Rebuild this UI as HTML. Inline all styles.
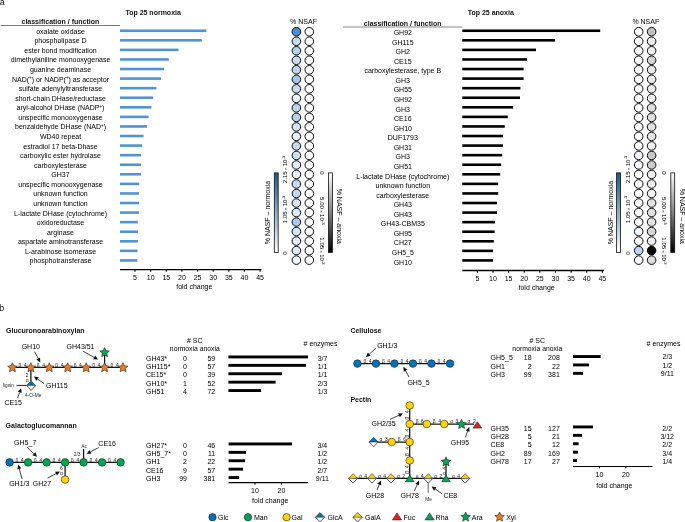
<!DOCTYPE html>
<html><head><meta charset="utf-8"><style>
html,body{margin:0;padding:0;background:#fff;}
svg{display:block;font-family:"Liberation Sans",sans-serif;will-change:transform;}
</style></head><body>
<svg width="685" height="522" viewBox="0 0 685 522">
<rect width="685" height="522" fill="#fff"/>
<text x="-0.30" y="4.70" font-size="8.8" text-anchor="start" font-weight="normal" fill="#111" >a</text>
<text x="-0.80" y="310.80" font-size="8.8" text-anchor="start" font-weight="normal" fill="#111" >b</text>
<text x="60.40" y="24.00" font-size="7" text-anchor="middle" font-weight="bold" fill="#111" >classification / function</text>
<line x1="0.60" y1="25.50" x2="120.00" y2="25.50" stroke="#777" stroke-width="1.0" />
<text x="125.40" y="14.80" font-size="7" text-anchor="start" font-weight="bold" fill="#111" >Top 25 normoxia</text>
<text x="60.50" y="33.75" font-size="7" text-anchor="middle" font-weight="normal" fill="#000" >oxalate oxidase</text>
<rect x="120.00" y="29.45" width="86.40" height="2.60" fill="#5393d3"/>
<text x="60.50" y="43.32" font-size="7" text-anchor="middle" font-weight="normal" fill="#000" >phospholipase D</text>
<rect x="120.00" y="39.02" width="81.80" height="2.60" fill="#5393d3"/>
<text x="60.50" y="52.89" font-size="7" text-anchor="middle" font-weight="normal" fill="#000" >ester bond modification</text>
<rect x="120.00" y="48.59" width="58.60" height="2.60" fill="#5393d3"/>
<text x="60.50" y="62.46" font-size="7" text-anchor="middle" font-weight="normal" fill="#000" >dimethylaniline monooxygenase</text>
<rect x="120.00" y="58.16" width="48.80" height="2.60" fill="#5393d3"/>
<text x="60.50" y="72.03" font-size="7" text-anchor="middle" font-weight="normal" fill="#000" >guanine deaminase</text>
<rect x="120.00" y="67.73" width="44.20" height="2.60" fill="#5393d3"/>
<text x="60.50" y="81.60" font-size="7" text-anchor="middle" font-weight="normal" fill="#000" >NAD(<tspan font-size='4.5' dy='-2.4'>+</tspan><tspan dy='2.4'>) or NADP(</tspan><tspan font-size='4.5' dy='-2.4'>+</tspan><tspan dy='2.4'>) as acceptor</tspan></text>
<rect x="120.00" y="77.30" width="41.00" height="2.60" fill="#5393d3"/>
<text x="60.50" y="91.17" font-size="7" text-anchor="middle" font-weight="normal" fill="#000" >sulfate adenylyltransferase</text>
<rect x="120.00" y="86.87" width="36.40" height="2.60" fill="#5393d3"/>
<text x="60.50" y="100.74" font-size="7" text-anchor="middle" font-weight="normal" fill="#000" >short-chain DHase/reductase</text>
<rect x="120.00" y="96.44" width="33.20" height="2.60" fill="#5393d3"/>
<text x="60.50" y="110.31" font-size="7" text-anchor="middle" font-weight="normal" fill="#000" >aryl-alcohol DHase (NADP<tspan font-size='4.5' dy='-2.4'>+</tspan><tspan dy='2.4'>)</tspan></text>
<rect x="120.00" y="106.01" width="31.40" height="2.60" fill="#5393d3"/>
<text x="60.50" y="119.88" font-size="7" text-anchor="middle" font-weight="normal" fill="#000" >unspecific monooxygenase</text>
<rect x="120.00" y="115.58" width="28.60" height="2.60" fill="#5393d3"/>
<text x="60.50" y="129.45" font-size="7" text-anchor="middle" font-weight="normal" fill="#000" >benzaldehyde DHase (NAD<tspan font-size='4.5' dy='-2.4'>+</tspan><tspan dy='2.4'>)</tspan></text>
<rect x="120.00" y="125.15" width="27.00" height="2.60" fill="#5393d3"/>
<text x="60.50" y="139.02" font-size="7" text-anchor="middle" font-weight="normal" fill="#000" >WD40 repeat</text>
<rect x="120.00" y="134.72" width="23.60" height="2.60" fill="#5393d3"/>
<text x="60.50" y="148.59" font-size="7" text-anchor="middle" font-weight="normal" fill="#000" >estradiol 17 beta-Dhase</text>
<rect x="120.00" y="144.29" width="22.20" height="2.60" fill="#5393d3"/>
<text x="60.50" y="158.16" font-size="7" text-anchor="middle" font-weight="normal" fill="#000" >carboxylic ester hydrolase</text>
<rect x="120.00" y="153.86" width="21.00" height="2.60" fill="#5393d3"/>
<text x="60.50" y="167.73" font-size="7" text-anchor="middle" font-weight="normal" fill="#000" >carboxylesterase</text>
<rect x="120.00" y="163.43" width="21.00" height="2.60" fill="#5393d3"/>
<text x="60.50" y="177.30" font-size="7" text-anchor="middle" font-weight="normal" fill="#000" >GH37</text>
<rect x="120.00" y="173.00" width="21.00" height="2.60" fill="#5393d3"/>
<text x="60.50" y="186.87" font-size="7" text-anchor="middle" font-weight="normal" fill="#000" >unspecific monooxygenase</text>
<rect x="120.00" y="182.57" width="19.20" height="2.60" fill="#5393d3"/>
<text x="60.50" y="196.44" font-size="7" text-anchor="middle" font-weight="normal" fill="#000" >unknown function</text>
<rect x="120.00" y="192.14" width="19.00" height="2.60" fill="#5393d3"/>
<text x="60.50" y="206.01" font-size="7" text-anchor="middle" font-weight="normal" fill="#000" >unknown function</text>
<rect x="120.00" y="201.71" width="19.00" height="2.60" fill="#5393d3"/>
<text x="60.50" y="215.58" font-size="7" text-anchor="middle" font-weight="normal" fill="#000" >L-lactate DHase (cytochrome)</text>
<rect x="120.00" y="211.28" width="19.00" height="2.60" fill="#5393d3"/>
<text x="60.50" y="225.15" font-size="7" text-anchor="middle" font-weight="normal" fill="#000" >oxidoreductase</text>
<rect x="120.00" y="220.85" width="17.80" height="2.60" fill="#5393d3"/>
<text x="60.50" y="234.72" font-size="7" text-anchor="middle" font-weight="normal" fill="#000" >arginase</text>
<rect x="120.00" y="230.42" width="17.90" height="2.60" fill="#5393d3"/>
<text x="60.50" y="244.29" font-size="7" text-anchor="middle" font-weight="normal" fill="#000" >aspartate aminotransferase</text>
<rect x="120.00" y="239.99" width="17.90" height="2.60" fill="#5393d3"/>
<text x="60.50" y="253.86" font-size="7" text-anchor="middle" font-weight="normal" fill="#000" >L-arabinose isomerase</text>
<rect x="120.00" y="249.56" width="17.60" height="2.60" fill="#5393d3"/>
<text x="60.50" y="263.43" font-size="7" text-anchor="middle" font-weight="normal" fill="#000" >phosphotransferase</text>
<rect x="120.00" y="259.13" width="17.40" height="2.60" fill="#5393d3"/>
<line x1="120.00" y1="269.60" x2="261.50" y2="269.60" stroke="#000" stroke-width="1.3" />
<line x1="135.03" y1="269.60" x2="135.03" y2="271.80" stroke="#000" stroke-width="1.1" />
<text x="135.03" y="279.60" font-size="7" text-anchor="middle" font-weight="normal" fill="#000" >5</text>
<line x1="150.66" y1="269.60" x2="150.66" y2="271.80" stroke="#000" stroke-width="1.1" />
<text x="150.66" y="279.60" font-size="7" text-anchor="middle" font-weight="normal" fill="#000" >10</text>
<line x1="166.29" y1="269.60" x2="166.29" y2="271.80" stroke="#000" stroke-width="1.1" />
<text x="166.29" y="279.60" font-size="7" text-anchor="middle" font-weight="normal" fill="#000" >15</text>
<line x1="181.92" y1="269.60" x2="181.92" y2="271.80" stroke="#000" stroke-width="1.1" />
<text x="181.92" y="279.60" font-size="7" text-anchor="middle" font-weight="normal" fill="#000" >20</text>
<line x1="197.55" y1="269.60" x2="197.55" y2="271.80" stroke="#000" stroke-width="1.1" />
<text x="197.55" y="279.60" font-size="7" text-anchor="middle" font-weight="normal" fill="#000" >25</text>
<line x1="213.18" y1="269.60" x2="213.18" y2="271.80" stroke="#000" stroke-width="1.1" />
<text x="213.18" y="279.60" font-size="7" text-anchor="middle" font-weight="normal" fill="#000" >30</text>
<line x1="228.81" y1="269.60" x2="228.81" y2="271.80" stroke="#000" stroke-width="1.1" />
<text x="228.81" y="279.60" font-size="7" text-anchor="middle" font-weight="normal" fill="#000" >35</text>
<line x1="244.44" y1="269.60" x2="244.44" y2="271.80" stroke="#000" stroke-width="1.1" />
<text x="244.44" y="279.60" font-size="7" text-anchor="middle" font-weight="normal" fill="#000" >40</text>
<line x1="260.07" y1="269.60" x2="260.07" y2="271.80" stroke="#000" stroke-width="1.1" />
<text x="260.07" y="279.60" font-size="7" text-anchor="middle" font-weight="normal" fill="#000" >45</text>
<text x="194.30" y="289.20" font-size="7" text-anchor="middle" font-weight="normal" fill="#000" >fold change</text>
<text x="303.50" y="23.60" font-size="7" text-anchor="middle" font-weight="normal" fill="#000" >% NSAF</text>
<circle cx="296.40" cy="31.75" r="4.3" fill="#4a8fd4" stroke="#000" stroke-width="0.95"/>
<circle cx="309.30" cy="31.75" r="4.3" fill="#ffffff" stroke="#000" stroke-width="0.95"/>
<circle cx="296.40" cy="41.27" r="4.3" fill="#c5dbf1" stroke="#000" stroke-width="0.95"/>
<circle cx="309.30" cy="41.27" r="4.3" fill="#ffffff" stroke="#000" stroke-width="0.95"/>
<circle cx="296.40" cy="50.78" r="4.3" fill="#b4d2ee" stroke="#000" stroke-width="0.95"/>
<circle cx="309.30" cy="50.78" r="4.3" fill="#ffffff" stroke="#000" stroke-width="0.95"/>
<circle cx="296.40" cy="60.30" r="4.3" fill="#c9ddf2" stroke="#000" stroke-width="0.95"/>
<circle cx="309.30" cy="60.30" r="4.3" fill="#ffffff" stroke="#000" stroke-width="0.95"/>
<circle cx="296.40" cy="69.81" r="4.3" fill="#bcd6f0" stroke="#000" stroke-width="0.95"/>
<circle cx="309.30" cy="69.81" r="4.3" fill="#ffffff" stroke="#000" stroke-width="0.95"/>
<circle cx="296.40" cy="79.33" r="4.3" fill="#a6c8ec" stroke="#000" stroke-width="0.95"/>
<circle cx="309.30" cy="79.33" r="4.3" fill="#ffffff" stroke="#000" stroke-width="0.95"/>
<circle cx="296.40" cy="88.84" r="4.3" fill="#c6dcf2" stroke="#000" stroke-width="0.95"/>
<circle cx="309.30" cy="88.84" r="4.3" fill="#ffffff" stroke="#000" stroke-width="0.95"/>
<circle cx="296.40" cy="98.36" r="4.3" fill="#eef4fb" stroke="#000" stroke-width="0.95"/>
<circle cx="309.30" cy="98.36" r="4.3" fill="#ffffff" stroke="#000" stroke-width="0.95"/>
<circle cx="296.40" cy="107.87" r="4.3" fill="#bcd6f0" stroke="#000" stroke-width="0.95"/>
<circle cx="309.30" cy="107.87" r="4.3" fill="#ffffff" stroke="#000" stroke-width="0.95"/>
<circle cx="296.40" cy="117.39" r="4.3" fill="#b6d2ef" stroke="#000" stroke-width="0.95"/>
<circle cx="309.30" cy="117.39" r="4.3" fill="#ffffff" stroke="#000" stroke-width="0.95"/>
<circle cx="296.40" cy="126.90" r="4.3" fill="#d2e4f6" stroke="#000" stroke-width="0.95"/>
<circle cx="309.30" cy="126.90" r="4.3" fill="#ffffff" stroke="#000" stroke-width="0.95"/>
<circle cx="296.40" cy="136.42" r="4.3" fill="#e6f0fa" stroke="#000" stroke-width="0.95"/>
<circle cx="309.30" cy="136.42" r="4.3" fill="#ffffff" stroke="#000" stroke-width="0.95"/>
<circle cx="296.40" cy="145.93" r="4.3" fill="#c2d9f1" stroke="#000" stroke-width="0.95"/>
<circle cx="309.30" cy="145.93" r="4.3" fill="#ffffff" stroke="#000" stroke-width="0.95"/>
<circle cx="296.40" cy="155.44" r="4.3" fill="#cce0f4" stroke="#000" stroke-width="0.95"/>
<circle cx="309.30" cy="155.44" r="4.3" fill="#ffffff" stroke="#000" stroke-width="0.95"/>
<circle cx="296.40" cy="164.96" r="4.3" fill="#e0ecf8" stroke="#000" stroke-width="0.95"/>
<circle cx="309.30" cy="164.96" r="4.3" fill="#ffffff" stroke="#000" stroke-width="0.95"/>
<circle cx="296.40" cy="174.48" r="4.3" fill="#e8f1fa" stroke="#000" stroke-width="0.95"/>
<circle cx="309.30" cy="174.48" r="4.3" fill="#ffffff" stroke="#000" stroke-width="0.95"/>
<circle cx="296.40" cy="183.99" r="4.3" fill="#c6dcf2" stroke="#000" stroke-width="0.95"/>
<circle cx="309.30" cy="183.99" r="4.3" fill="#ffffff" stroke="#000" stroke-width="0.95"/>
<circle cx="296.40" cy="193.50" r="4.3" fill="#c0d8f1" stroke="#000" stroke-width="0.95"/>
<circle cx="309.30" cy="193.50" r="4.3" fill="#ffffff" stroke="#000" stroke-width="0.95"/>
<circle cx="296.40" cy="203.02" r="4.3" fill="#d6e6f6" stroke="#000" stroke-width="0.95"/>
<circle cx="309.30" cy="203.02" r="4.3" fill="#ffffff" stroke="#000" stroke-width="0.95"/>
<circle cx="296.40" cy="212.54" r="4.3" fill="#dde9f7" stroke="#000" stroke-width="0.95"/>
<circle cx="309.30" cy="212.54" r="4.3" fill="#ffffff" stroke="#000" stroke-width="0.95"/>
<circle cx="296.40" cy="222.05" r="4.3" fill="#a9caec" stroke="#000" stroke-width="0.95"/>
<circle cx="309.30" cy="222.05" r="4.3" fill="#ffffff" stroke="#000" stroke-width="0.95"/>
<circle cx="296.40" cy="231.56" r="4.3" fill="#d2e4f6" stroke="#000" stroke-width="0.95"/>
<circle cx="309.30" cy="231.56" r="4.3" fill="#ffffff" stroke="#000" stroke-width="0.95"/>
<circle cx="296.40" cy="241.08" r="4.3" fill="#dfebf8" stroke="#000" stroke-width="0.95"/>
<circle cx="309.30" cy="241.08" r="4.3" fill="#ffffff" stroke="#000" stroke-width="0.95"/>
<circle cx="296.40" cy="250.60" r="4.3" fill="#dde9f7" stroke="#000" stroke-width="0.95"/>
<circle cx="309.30" cy="250.60" r="4.3" fill="#ffffff" stroke="#000" stroke-width="0.95"/>
<circle cx="296.40" cy="260.11" r="4.3" fill="#eef4fb" stroke="#000" stroke-width="0.95"/>
<circle cx="309.30" cy="260.11" r="4.3" fill="#ffffff" stroke="#000" stroke-width="0.95"/>
<defs><linearGradient id="gb0" x1="0" y1="1" x2="0" y2="0"><stop offset="0" stop-color="#ffffff"/><stop offset="1" stop-color="#1b5a85"/></linearGradient><linearGradient id="gk0" x1="0" y1="0" x2="0" y2="1"><stop offset="0" stop-color="#ffffff"/><stop offset="1" stop-color="#000000"/></linearGradient></defs>
<rect x="274.30" y="172.9" width="3.9" height="79.5" fill="url(#gb0)" stroke="#111" stroke-width="0.8"/>
<rect x="328.50" y="172.9" width="3.9" height="79.5" fill="url(#gk0)" stroke="#111" stroke-width="0.8"/>
<text transform="translate(270.40,212.50) rotate(-90)" font-size="7" text-anchor="middle" font-weight="normal" fill="#000">% NASF – normoxia</text>
<text transform="translate(337.20,216.30) rotate(90)" font-size="7" text-anchor="middle" font-weight="normal" fill="#000">% NASF – anoxia</text>
<text transform="translate(287.30,253.00) rotate(-90)" font-size="6.1" text-anchor="middle" font-weight="normal" fill="#000">0</text>
<text transform="translate(287.30,209.50) rotate(-90)" font-size="6.1" text-anchor="middle" font-weight="normal" fill="#000">1.05<tspan font-size="4.4"> × </tspan>10<tspan font-size="4.2" dy="-2.2">-3</tspan></text>
<text transform="translate(287.30,169.50) rotate(-90)" font-size="6.1" text-anchor="middle" font-weight="normal" fill="#000">2.15<tspan font-size="4.4"> × </tspan>10<tspan font-size="4.2" dy="-2.2">-3</tspan></text>
<text transform="translate(319.60,173.00) rotate(90)" font-size="6.1" text-anchor="middle" font-weight="normal" fill="#000">0</text>
<text transform="translate(319.60,210.80) rotate(90)" font-size="6.1" text-anchor="middle" font-weight="normal" fill="#000">5.00<tspan font-size="4.4"> × </tspan>10<tspan font-size="4.2" dy="-2.2">-3</tspan></text>
<text transform="translate(319.60,251.00) rotate(90)" font-size="6.1" text-anchor="middle" font-weight="normal" fill="#000">1.05<tspan font-size="4.4"> × </tspan>10<tspan font-size="4.2" dy="-2.2">-2</tspan></text>
<text x="402.70" y="25.70" font-size="7" text-anchor="middle" font-weight="bold" fill="#111" >classification / function</text>
<line x1="342.90" y1="27.00" x2="462.30" y2="27.00" stroke="#888" stroke-width="1.0" />
<text x="467.70" y="14.80" font-size="7" text-anchor="start" font-weight="bold" fill="#111" >Top 25 anoxia</text>
<text x="402.80" y="34.95" font-size="7" text-anchor="middle" font-weight="normal" fill="#000" >GH92</text>
<rect x="462.30" y="29.45" width="137.90" height="2.60" fill="#000000"/>
<text x="402.80" y="44.52" font-size="7" text-anchor="middle" font-weight="normal" fill="#000" >GH115</text>
<rect x="462.30" y="39.02" width="92.70" height="2.60" fill="#000000"/>
<text x="402.80" y="54.09" font-size="7" text-anchor="middle" font-weight="normal" fill="#000" >GH2</text>
<rect x="462.30" y="48.59" width="73.70" height="2.60" fill="#000000"/>
<text x="402.80" y="63.66" font-size="7" text-anchor="middle" font-weight="normal" fill="#000" >CE15</text>
<rect x="462.30" y="58.16" width="64.70" height="2.60" fill="#000000"/>
<text x="402.80" y="73.23" font-size="7" text-anchor="middle" font-weight="normal" fill="#000" >carboxylesterase, type B</text>
<rect x="462.30" y="67.73" width="61.30" height="2.60" fill="#000000"/>
<text x="402.80" y="82.80" font-size="7" text-anchor="middle" font-weight="normal" fill="#000" >GH3</text>
<rect x="462.30" y="77.30" width="61.30" height="2.60" fill="#000000"/>
<text x="402.80" y="92.37" font-size="7" text-anchor="middle" font-weight="normal" fill="#000" >GH55</text>
<rect x="462.30" y="86.87" width="58.10" height="2.60" fill="#000000"/>
<text x="402.80" y="101.94" font-size="7" text-anchor="middle" font-weight="normal" fill="#000" >GH92</text>
<rect x="462.30" y="96.44" width="57.70" height="2.60" fill="#000000"/>
<text x="402.80" y="111.51" font-size="7" text-anchor="middle" font-weight="normal" fill="#000" >GH3</text>
<rect x="462.30" y="106.01" width="50.90" height="2.60" fill="#000000"/>
<text x="402.80" y="121.08" font-size="7" text-anchor="middle" font-weight="normal" fill="#000" >CE16</text>
<rect x="462.30" y="115.58" width="45.50" height="2.60" fill="#000000"/>
<text x="402.80" y="130.65" font-size="7" text-anchor="middle" font-weight="normal" fill="#000" >GH10</text>
<rect x="462.30" y="125.15" width="42.50" height="2.60" fill="#000000"/>
<text x="402.80" y="140.22" font-size="7" text-anchor="middle" font-weight="normal" fill="#000" >DUF1793</text>
<rect x="462.30" y="134.72" width="40.70" height="2.60" fill="#000000"/>
<text x="402.80" y="149.79" font-size="7" text-anchor="middle" font-weight="normal" fill="#000" >GH31</text>
<rect x="462.30" y="144.29" width="40.70" height="2.60" fill="#000000"/>
<text x="402.80" y="159.36" font-size="7" text-anchor="middle" font-weight="normal" fill="#000" >GH3</text>
<rect x="462.30" y="153.86" width="39.90" height="2.60" fill="#000000"/>
<text x="402.80" y="168.93" font-size="7" text-anchor="middle" font-weight="normal" fill="#000" >GH51</text>
<rect x="462.30" y="163.43" width="38.90" height="2.60" fill="#000000"/>
<text x="402.80" y="178.50" font-size="7" text-anchor="middle" font-weight="normal" fill="#000" >L-lactate DHase (cytochrome)</text>
<rect x="462.30" y="173.00" width="37.90" height="2.60" fill="#000000"/>
<text x="402.80" y="188.07" font-size="7" text-anchor="middle" font-weight="normal" fill="#000" >unknown function</text>
<rect x="462.30" y="182.57" width="35.90" height="2.60" fill="#000000"/>
<text x="402.80" y="197.64" font-size="7" text-anchor="middle" font-weight="normal" fill="#000" >carboxylesterase</text>
<rect x="462.30" y="192.14" width="35.90" height="2.60" fill="#000000"/>
<text x="402.80" y="207.21" font-size="7" text-anchor="middle" font-weight="normal" fill="#000" >GH43</text>
<rect x="462.30" y="201.71" width="34.70" height="2.60" fill="#000000"/>
<text x="402.80" y="216.78" font-size="7" text-anchor="middle" font-weight="normal" fill="#000" >GH43</text>
<rect x="462.30" y="211.28" width="34.70" height="2.60" fill="#000000"/>
<text x="402.80" y="226.35" font-size="7" text-anchor="middle" font-weight="normal" fill="#000" >GH43-CBM35</text>
<rect x="462.30" y="220.85" width="32.70" height="2.60" fill="#000000"/>
<text x="402.80" y="235.92" font-size="7" text-anchor="middle" font-weight="normal" fill="#000" >GH95</text>
<rect x="462.30" y="230.42" width="32.30" height="2.60" fill="#000000"/>
<text x="402.80" y="245.49" font-size="7" text-anchor="middle" font-weight="normal" fill="#000" >CH27</text>
<rect x="462.30" y="239.99" width="31.50" height="2.60" fill="#000000"/>
<text x="402.80" y="255.06" font-size="7" text-anchor="middle" font-weight="normal" fill="#000" >GH5_5</text>
<rect x="462.30" y="249.56" width="30.70" height="2.60" fill="#000000"/>
<text x="402.80" y="264.63" font-size="7" text-anchor="middle" font-weight="normal" fill="#000" >GH10</text>
<rect x="462.30" y="259.13" width="30.70" height="2.60" fill="#000000"/>
<line x1="462.30" y1="270.50" x2="603.80" y2="270.50" stroke="#000" stroke-width="1.3" />
<line x1="477.33" y1="270.50" x2="477.33" y2="272.70" stroke="#000" stroke-width="1.1" />
<text x="477.33" y="280.50" font-size="7" text-anchor="middle" font-weight="normal" fill="#000" >5</text>
<line x1="492.96" y1="270.50" x2="492.96" y2="272.70" stroke="#000" stroke-width="1.1" />
<text x="492.96" y="280.50" font-size="7" text-anchor="middle" font-weight="normal" fill="#000" >10</text>
<line x1="508.59" y1="270.50" x2="508.59" y2="272.70" stroke="#000" stroke-width="1.1" />
<text x="508.59" y="280.50" font-size="7" text-anchor="middle" font-weight="normal" fill="#000" >15</text>
<line x1="524.22" y1="270.50" x2="524.22" y2="272.70" stroke="#000" stroke-width="1.1" />
<text x="524.22" y="280.50" font-size="7" text-anchor="middle" font-weight="normal" fill="#000" >20</text>
<line x1="539.85" y1="270.50" x2="539.85" y2="272.70" stroke="#000" stroke-width="1.1" />
<text x="539.85" y="280.50" font-size="7" text-anchor="middle" font-weight="normal" fill="#000" >25</text>
<line x1="555.48" y1="270.50" x2="555.48" y2="272.70" stroke="#000" stroke-width="1.1" />
<text x="555.48" y="280.50" font-size="7" text-anchor="middle" font-weight="normal" fill="#000" >30</text>
<line x1="571.11" y1="270.50" x2="571.11" y2="272.70" stroke="#000" stroke-width="1.1" />
<text x="571.11" y="280.50" font-size="7" text-anchor="middle" font-weight="normal" fill="#000" >35</text>
<line x1="586.74" y1="270.50" x2="586.74" y2="272.70" stroke="#000" stroke-width="1.1" />
<text x="586.74" y="280.50" font-size="7" text-anchor="middle" font-weight="normal" fill="#000" >40</text>
<line x1="602.37" y1="270.50" x2="602.37" y2="272.70" stroke="#000" stroke-width="1.1" />
<text x="602.37" y="280.50" font-size="7" text-anchor="middle" font-weight="normal" fill="#000" >45</text>
<text x="536.60" y="290.10" font-size="7" text-anchor="middle" font-weight="normal" fill="#000" >fold change</text>
<text x="645.80" y="23.60" font-size="7" text-anchor="middle" font-weight="normal" fill="#000" >% NSAF</text>
<circle cx="638.70" cy="31.75" r="4.3" fill="#ffffff" stroke="#000" stroke-width="0.95"/>
<circle cx="651.60" cy="31.75" r="4.3" fill="#c0c0c0" stroke="#000" stroke-width="0.95"/>
<circle cx="638.70" cy="41.27" r="4.3" fill="#ffffff" stroke="#000" stroke-width="0.95"/>
<circle cx="651.60" cy="41.27" r="4.3" fill="#ececec" stroke="#000" stroke-width="0.95"/>
<circle cx="638.70" cy="50.78" r="4.3" fill="#ffffff" stroke="#000" stroke-width="0.95"/>
<circle cx="651.60" cy="50.78" r="4.3" fill="#eeeeee" stroke="#000" stroke-width="0.95"/>
<circle cx="638.70" cy="60.30" r="4.3" fill="#ffffff" stroke="#000" stroke-width="0.95"/>
<circle cx="651.60" cy="60.30" r="4.3" fill="#d4d4d4" stroke="#000" stroke-width="0.95"/>
<circle cx="638.70" cy="69.81" r="4.3" fill="#ffffff" stroke="#000" stroke-width="0.95"/>
<circle cx="651.60" cy="69.81" r="4.3" fill="#e8e8e8" stroke="#000" stroke-width="0.95"/>
<circle cx="638.70" cy="79.33" r="4.3" fill="#ffffff" stroke="#000" stroke-width="0.95"/>
<circle cx="651.60" cy="79.33" r="4.3" fill="#eaeaea" stroke="#000" stroke-width="0.95"/>
<circle cx="638.70" cy="88.84" r="4.3" fill="#ffffff" stroke="#000" stroke-width="0.95"/>
<circle cx="651.60" cy="88.84" r="4.3" fill="#e8e8e8" stroke="#000" stroke-width="0.95"/>
<circle cx="638.70" cy="98.36" r="4.3" fill="#ffffff" stroke="#000" stroke-width="0.95"/>
<circle cx="651.60" cy="98.36" r="4.3" fill="#f0f0f0" stroke="#000" stroke-width="0.95"/>
<circle cx="638.70" cy="107.87" r="4.3" fill="#ffffff" stroke="#000" stroke-width="0.95"/>
<circle cx="651.60" cy="107.87" r="4.3" fill="#e0e0e0" stroke="#000" stroke-width="0.95"/>
<circle cx="638.70" cy="117.39" r="4.3" fill="#ffffff" stroke="#000" stroke-width="0.95"/>
<circle cx="651.60" cy="117.39" r="4.3" fill="#dcdcdc" stroke="#000" stroke-width="0.95"/>
<circle cx="638.70" cy="126.90" r="4.3" fill="#ffffff" stroke="#000" stroke-width="0.95"/>
<circle cx="651.60" cy="126.90" r="4.3" fill="#e2e2e2" stroke="#000" stroke-width="0.95"/>
<circle cx="638.70" cy="136.42" r="4.3" fill="#ffffff" stroke="#000" stroke-width="0.95"/>
<circle cx="651.60" cy="136.42" r="4.3" fill="#e4e4e4" stroke="#000" stroke-width="0.95"/>
<circle cx="638.70" cy="145.93" r="4.3" fill="#ffffff" stroke="#000" stroke-width="0.95"/>
<circle cx="651.60" cy="145.93" r="4.3" fill="#eeeeee" stroke="#000" stroke-width="0.95"/>
<circle cx="638.70" cy="155.44" r="4.3" fill="#f0f5fb" stroke="#000" stroke-width="0.95"/>
<circle cx="651.60" cy="155.44" r="4.3" fill="#c8c8c8" stroke="#000" stroke-width="0.95"/>
<circle cx="638.70" cy="164.96" r="4.3" fill="#f0f5fb" stroke="#000" stroke-width="0.95"/>
<circle cx="651.60" cy="164.96" r="4.3" fill="#cccccc" stroke="#000" stroke-width="0.95"/>
<circle cx="638.70" cy="174.48" r="4.3" fill="#ffffff" stroke="#000" stroke-width="0.95"/>
<circle cx="651.60" cy="174.48" r="4.3" fill="#ececec" stroke="#000" stroke-width="0.95"/>
<circle cx="638.70" cy="183.99" r="4.3" fill="#ffffff" stroke="#000" stroke-width="0.95"/>
<circle cx="651.60" cy="183.99" r="4.3" fill="#ececec" stroke="#000" stroke-width="0.95"/>
<circle cx="638.70" cy="193.50" r="4.3" fill="#ffffff" stroke="#000" stroke-width="0.95"/>
<circle cx="651.60" cy="193.50" r="4.3" fill="#f0f0f0" stroke="#000" stroke-width="0.95"/>
<circle cx="638.70" cy="203.02" r="4.3" fill="#ffffff" stroke="#000" stroke-width="0.95"/>
<circle cx="651.60" cy="203.02" r="4.3" fill="#e2e2e2" stroke="#000" stroke-width="0.95"/>
<circle cx="638.70" cy="212.54" r="4.3" fill="#ffffff" stroke="#000" stroke-width="0.95"/>
<circle cx="651.60" cy="212.54" r="4.3" fill="#dedede" stroke="#000" stroke-width="0.95"/>
<circle cx="638.70" cy="222.05" r="4.3" fill="#ffffff" stroke="#000" stroke-width="0.95"/>
<circle cx="651.60" cy="222.05" r="4.3" fill="#e4e4e4" stroke="#000" stroke-width="0.95"/>
<circle cx="638.70" cy="231.56" r="4.3" fill="#f0f5fb" stroke="#000" stroke-width="0.95"/>
<circle cx="651.60" cy="231.56" r="4.3" fill="#d7d7d7" stroke="#000" stroke-width="0.95"/>
<circle cx="638.70" cy="241.08" r="4.3" fill="#ffffff" stroke="#000" stroke-width="0.95"/>
<circle cx="651.60" cy="241.08" r="4.3" fill="#ececec" stroke="#000" stroke-width="0.95"/>
<circle cx="638.70" cy="250.60" r="4.3" fill="#b8d4f0" stroke="#000" stroke-width="0.95"/>
<circle cx="651.60" cy="250.60" r="4.3" fill="#000000" stroke="#000" stroke-width="0.95"/>
<circle cx="638.70" cy="260.11" r="4.3" fill="#f5f8fc" stroke="#000" stroke-width="0.95"/>
<circle cx="651.60" cy="260.11" r="4.3" fill="#dcdcdc" stroke="#000" stroke-width="0.95"/>
<defs><linearGradient id="gb342" x1="0" y1="1" x2="0" y2="0"><stop offset="0" stop-color="#ffffff"/><stop offset="1" stop-color="#1b5a85"/></linearGradient><linearGradient id="gk342" x1="0" y1="0" x2="0" y2="1"><stop offset="0" stop-color="#ffffff"/><stop offset="1" stop-color="#000000"/></linearGradient></defs>
<rect x="616.60" y="172.9" width="3.9" height="79.5" fill="url(#gb342)" stroke="#111" stroke-width="0.8"/>
<rect x="670.80" y="172.9" width="3.9" height="79.5" fill="url(#gk342)" stroke="#111" stroke-width="0.8"/>
<text transform="translate(612.70,212.50) rotate(-90)" font-size="7" text-anchor="middle" font-weight="normal" fill="#000">% NASF – normoxia</text>
<text transform="translate(679.50,216.30) rotate(90)" font-size="7" text-anchor="middle" font-weight="normal" fill="#000">% NASF – anoxia</text>
<text transform="translate(629.60,253.00) rotate(-90)" font-size="6.1" text-anchor="middle" font-weight="normal" fill="#000">0</text>
<text transform="translate(629.60,209.50) rotate(-90)" font-size="6.1" text-anchor="middle" font-weight="normal" fill="#000">1.05<tspan font-size="4.4"> × </tspan>10<tspan font-size="4.2" dy="-2.2">-3</tspan></text>
<text transform="translate(629.60,169.50) rotate(-90)" font-size="6.1" text-anchor="middle" font-weight="normal" fill="#000">2.15<tspan font-size="4.4"> × </tspan>10<tspan font-size="4.2" dy="-2.2">-3</tspan></text>
<text transform="translate(661.90,173.00) rotate(90)" font-size="6.1" text-anchor="middle" font-weight="normal" fill="#000">0</text>
<text transform="translate(661.90,210.80) rotate(90)" font-size="6.1" text-anchor="middle" font-weight="normal" fill="#000">5.00<tspan font-size="4.4"> × </tspan>10<tspan font-size="4.2" dy="-2.2">-3</tspan></text>
<text transform="translate(661.90,251.00) rotate(90)" font-size="6.1" text-anchor="middle" font-weight="normal" fill="#000">1.05<tspan font-size="4.4"> × </tspan>10<tspan font-size="4.2" dy="-2.2">-2</tspan></text>
<text x="6.00" y="332.60" font-size="7" text-anchor="start" font-weight="bold" fill="#111" >Glucuronoarabinoxylan</text>
<line x1="12.45" y1="367.30" x2="123.03" y2="367.30" stroke="#111" stroke-width="1.25" />
<line x1="30.88" y1="367.30" x2="30.88" y2="381.00" stroke="#111" stroke-width="1.25" />
<line x1="104.60" y1="367.30" x2="104.60" y2="352.00" stroke="#111" stroke-width="1.25" />
<line x1="16.50" y1="385.40" x2="27.00" y2="385.40" stroke="#111" stroke-width="0.9" />
<text x="19.85" y="366.70" font-size="4.9" text-anchor="middle" font-weight="normal" fill="#222" >β</text>
<text x="25.15" y="366.70" font-size="4.9" text-anchor="middle" font-weight="normal" fill="#222" >4</text>
<text x="38.28" y="366.70" font-size="4.9" text-anchor="middle" font-weight="normal" fill="#222" >β</text>
<text x="43.58" y="366.70" font-size="4.9" text-anchor="middle" font-weight="normal" fill="#222" >4</text>
<text x="56.71" y="366.70" font-size="4.9" text-anchor="middle" font-weight="normal" fill="#222" >β</text>
<text x="62.01" y="366.70" font-size="4.9" text-anchor="middle" font-weight="normal" fill="#222" >4</text>
<text x="75.14" y="366.70" font-size="4.9" text-anchor="middle" font-weight="normal" fill="#222" >β</text>
<text x="80.44" y="366.70" font-size="4.9" text-anchor="middle" font-weight="normal" fill="#222" >4</text>
<text x="93.57" y="366.70" font-size="4.9" text-anchor="middle" font-weight="normal" fill="#222" >β</text>
<text x="98.87" y="366.70" font-size="4.9" text-anchor="middle" font-weight="normal" fill="#222" >4</text>
<text x="112.00" y="366.70" font-size="4.9" text-anchor="middle" font-weight="normal" fill="#222" >β</text>
<text x="117.30" y="366.70" font-size="4.9" text-anchor="middle" font-weight="normal" fill="#222" >4</text>
<polygon points="12.45,362.70 13.86,365.76 17.21,366.15 14.73,368.44 15.39,371.75 12.45,370.10 9.51,371.75 10.17,368.44 7.69,366.15 11.04,365.76" fill="#f47920" stroke="#222" stroke-width="0.6" stroke-linejoin="round"/>
<polygon points="30.88,362.70 32.29,365.76 35.64,366.15 33.16,368.44 33.82,371.75 30.88,370.10 27.94,371.75 28.60,368.44 26.12,366.15 29.47,365.76" fill="#f47920" stroke="#222" stroke-width="0.6" stroke-linejoin="round"/>
<polygon points="49.31,362.70 50.72,365.76 54.07,366.15 51.59,368.44 52.25,371.75 49.31,370.10 46.37,371.75 47.03,368.44 44.55,366.15 47.90,365.76" fill="#f47920" stroke="#222" stroke-width="0.6" stroke-linejoin="round"/>
<polygon points="67.74,362.70 69.15,365.76 72.50,366.15 70.02,368.44 70.68,371.75 67.74,370.10 64.80,371.75 65.46,368.44 62.98,366.15 66.33,365.76" fill="#f47920" stroke="#222" stroke-width="0.6" stroke-linejoin="round"/>
<polygon points="86.17,362.70 87.58,365.76 90.93,366.15 88.45,368.44 89.11,371.75 86.17,370.10 83.23,371.75 83.89,368.44 81.41,366.15 84.76,365.76" fill="#f47920" stroke="#222" stroke-width="0.6" stroke-linejoin="round"/>
<polygon points="104.60,362.70 106.01,365.76 109.36,366.15 106.88,368.44 107.54,371.75 104.60,370.10 101.66,371.75 102.32,368.44 99.84,366.15 103.19,365.76" fill="#f47920" stroke="#222" stroke-width="0.6" stroke-linejoin="round"/>
<polygon points="123.03,362.70 124.44,365.76 127.79,366.15 125.31,368.44 125.97,371.75 123.03,370.10 120.09,371.75 120.75,368.44 118.27,366.15 121.62,365.76" fill="#f47920" stroke="#222" stroke-width="0.6" stroke-linejoin="round"/>
<polygon points="104.60,347.60 106.01,350.66 109.36,351.05 106.88,353.34 107.54,356.65 104.60,355.00 101.66,356.65 102.32,353.34 99.84,351.05 103.19,350.66" fill="#00a651" stroke="#222" stroke-width="0.6" stroke-linejoin="round"/>
<polygon points="26.60,385.60 31.10,380.90 35.60,385.60" fill="#0072bc"/>
<polygon points="26.60,385.60 31.10,380.90 35.60,385.60 31.10,390.30" fill="none" stroke="#222" stroke-width="0.6"/>
<polygon points="26.60,385.60 31.10,390.30 35.60,385.60" fill="#fff" stroke="#222" stroke-width="0.6"/>
<text x="27.20" y="377.00" font-size="4.9" text-anchor="middle" font-weight="normal" fill="#222" >2</text>
<text x="27.20" y="382.00" font-size="4.9" text-anchor="middle" font-weight="normal" fill="#222" >α</text>
<text x="8.50" y="387.00" font-size="4.7" text-anchor="middle" font-weight="normal" fill="#222" >lignin</text>
<text x="33.20" y="397.40" font-size="4.8" text-anchor="middle" font-weight="normal" fill="#222" >4-O-Me</text>
<text x="30.80" y="348.90" font-size="7" text-anchor="middle" font-weight="normal" fill="#000" >GH10</text>
<text x="80.50" y="348.90" font-size="7" text-anchor="middle" font-weight="normal" fill="#000" >GH43/51</text>
<text x="46.00" y="387.60" font-size="7" text-anchor="start" font-weight="normal" fill="#000" >GH115</text>
<text x="4.40" y="405.20" font-size="7" text-anchor="start" font-weight="normal" fill="#000" >CE15</text>
<line x1="34.40" y1="351.50" x2="38.21" y2="358.53" stroke="#111" stroke-width="0.8" />
<polygon points="40.30,362.40 36.36,359.53 40.05,357.53" fill="#111"/>
<line x1="83.00" y1="351.20" x2="94.16" y2="357.45" stroke="#111" stroke-width="0.8" />
<polygon points="98.00,359.60 93.13,359.28 95.19,355.62" fill="#111"/>
<line x1="44.00" y1="383.50" x2="37.60" y2="379.02" stroke="#111" stroke-width="0.8" />
<polygon points="34.00,376.50 38.81,377.30 36.40,380.74" fill="#111"/>
<line x1="17.60" y1="398.00" x2="19.68" y2="392.33" stroke="#111" stroke-width="0.8" />
<polygon points="21.20,388.20 21.65,393.05 17.71,391.61" fill="#111"/>
<text x="5.60" y="428.20" font-size="7" text-anchor="start" font-weight="bold" fill="#111" >Galactoglucomannan</text>
<line x1="9.60" y1="462.40" x2="120.60" y2="462.40" stroke="#111" stroke-width="1.25" />
<line x1="65.10" y1="462.40" x2="65.10" y2="479.60" stroke="#111" stroke-width="1.25" />
<line x1="83.60" y1="462.40" x2="83.60" y2="449.00" stroke="#111" stroke-width="1.25" />
<text x="17.00" y="461.80" font-size="4.9" text-anchor="middle" font-weight="normal" fill="#222" >β</text>
<text x="22.30" y="461.80" font-size="4.9" text-anchor="middle" font-weight="normal" fill="#222" >4</text>
<text x="35.50" y="461.80" font-size="4.9" text-anchor="middle" font-weight="normal" fill="#222" >β</text>
<text x="40.80" y="461.80" font-size="4.9" text-anchor="middle" font-weight="normal" fill="#222" >4</text>
<text x="54.00" y="461.80" font-size="4.9" text-anchor="middle" font-weight="normal" fill="#222" >β</text>
<text x="59.30" y="461.80" font-size="4.9" text-anchor="middle" font-weight="normal" fill="#222" >4</text>
<text x="72.50" y="461.80" font-size="4.9" text-anchor="middle" font-weight="normal" fill="#222" >β</text>
<text x="77.80" y="461.80" font-size="4.9" text-anchor="middle" font-weight="normal" fill="#222" >4</text>
<text x="91.00" y="461.80" font-size="4.9" text-anchor="middle" font-weight="normal" fill="#222" >β</text>
<text x="96.30" y="461.80" font-size="4.9" text-anchor="middle" font-weight="normal" fill="#222" >4</text>
<text x="109.50" y="461.80" font-size="4.9" text-anchor="middle" font-weight="normal" fill="#222" >β</text>
<text x="114.80" y="461.80" font-size="4.9" text-anchor="middle" font-weight="normal" fill="#222" >4</text>
<circle cx="9.60" cy="462.40" r="3.8" fill="#0072bc" stroke="#222" stroke-width="0.6"/>
<circle cx="28.10" cy="462.40" r="3.8" fill="#00a651" stroke="#222" stroke-width="0.6"/>
<circle cx="46.60" cy="462.40" r="3.8" fill="#00a651" stroke="#222" stroke-width="0.6"/>
<circle cx="65.10" cy="462.40" r="3.8" fill="#00a651" stroke="#222" stroke-width="0.6"/>
<circle cx="83.60" cy="462.40" r="3.8" fill="#00a651" stroke="#222" stroke-width="0.6"/>
<circle cx="102.10" cy="462.40" r="3.8" fill="#00a651" stroke="#222" stroke-width="0.6"/>
<circle cx="120.60" cy="462.40" r="3.8" fill="#00a651" stroke="#222" stroke-width="0.6"/>
<circle cx="65.10" cy="479.60" r="3.8" fill="#ffd400" stroke="#222" stroke-width="0.6"/>
<text x="61.40" y="469.60" font-size="4.9" text-anchor="middle" font-weight="normal" fill="#222" >6</text>
<text x="61.40" y="474.60" font-size="4.9" text-anchor="middle" font-weight="normal" fill="#222" >α</text>
<text x="84.00" y="447.60" font-size="4.8" text-anchor="middle" font-weight="normal" fill="#222" >Ac</text>
<text x="77.20" y="455.60" font-size="4.9" text-anchor="middle" font-weight="normal" fill="#222" >2/3</text>
<text x="25.20" y="445.20" font-size="7" text-anchor="middle" font-weight="normal" fill="#000" >GH5_7</text>
<text x="107.10" y="446.20" font-size="7" text-anchor="middle" font-weight="normal" fill="#000" >CE16</text>
<text x="19.30" y="486.40" font-size="7" text-anchor="middle" font-weight="normal" fill="#000" >GH1/3</text>
<text x="42.00" y="486.40" font-size="7" text-anchor="middle" font-weight="normal" fill="#000" >GH27</text>
<line x1="27.00" y1="447.00" x2="33.86" y2="453.72" stroke="#111" stroke-width="0.8" />
<polygon points="37.00,456.80 32.39,455.22 35.33,452.22" fill="#111"/>
<line x1="98.60" y1="447.60" x2="90.51" y2="451.78" stroke="#111" stroke-width="0.8" />
<polygon points="86.60,453.80 89.55,449.91 91.47,453.65" fill="#111"/>
<line x1="22.00" y1="479.00" x2="19.32" y2="468.85" stroke="#111" stroke-width="0.8" />
<polygon points="18.20,464.60 21.35,468.32 17.29,469.39" fill="#111"/>
<line x1="47.60" y1="478.00" x2="56.09" y2="473.62" stroke="#111" stroke-width="0.8" />
<polygon points="60.00,471.60 57.05,475.48 55.13,471.75" fill="#111"/>
<text x="350.40" y="333.00" font-size="7" text-anchor="start" font-weight="bold" fill="#111" >Cellulose</text>
<line x1="357.40" y1="363.60" x2="450.00" y2="363.60" stroke="#111" stroke-width="1.25" />
<text x="364.80" y="363.00" font-size="4.9" text-anchor="middle" font-weight="normal" fill="#222" >β</text>
<text x="370.10" y="363.00" font-size="4.9" text-anchor="middle" font-weight="normal" fill="#222" >4</text>
<text x="383.32" y="363.00" font-size="4.9" text-anchor="middle" font-weight="normal" fill="#222" >β</text>
<text x="388.62" y="363.00" font-size="4.9" text-anchor="middle" font-weight="normal" fill="#222" >4</text>
<text x="401.84" y="363.00" font-size="4.9" text-anchor="middle" font-weight="normal" fill="#222" >β</text>
<text x="407.14" y="363.00" font-size="4.9" text-anchor="middle" font-weight="normal" fill="#222" >4</text>
<text x="420.36" y="363.00" font-size="4.9" text-anchor="middle" font-weight="normal" fill="#222" >β</text>
<text x="425.66" y="363.00" font-size="4.9" text-anchor="middle" font-weight="normal" fill="#222" >4</text>
<text x="438.88" y="363.00" font-size="4.9" text-anchor="middle" font-weight="normal" fill="#222" >β</text>
<text x="444.18" y="363.00" font-size="4.9" text-anchor="middle" font-weight="normal" fill="#222" >4</text>
<circle cx="357.40" cy="363.60" r="3.8" fill="#0072bc" stroke="#222" stroke-width="0.6"/>
<circle cx="375.92" cy="363.60" r="3.8" fill="#0072bc" stroke="#222" stroke-width="0.6"/>
<circle cx="394.44" cy="363.60" r="3.8" fill="#0072bc" stroke="#222" stroke-width="0.6"/>
<circle cx="412.96" cy="363.60" r="3.8" fill="#0072bc" stroke="#222" stroke-width="0.6"/>
<circle cx="431.48" cy="363.60" r="3.8" fill="#0072bc" stroke="#222" stroke-width="0.6"/>
<circle cx="450.00" cy="363.60" r="3.8" fill="#0072bc" stroke="#222" stroke-width="0.6"/>
<text x="387.30" y="348.40" font-size="7" text-anchor="middle" font-weight="normal" fill="#000" >GH1/3</text>
<text x="418.50" y="384.60" font-size="7" text-anchor="middle" font-weight="normal" fill="#000" >GH5_5</text>
<line x1="376.00" y1="348.20" x2="369.30" y2="354.09" stroke="#111" stroke-width="0.8" />
<polygon points="366.00,357.00 367.92,352.52 370.69,355.67" fill="#111"/>
<line x1="409.00" y1="377.00" x2="405.52" y2="370.66" stroke="#111" stroke-width="0.8" />
<polygon points="403.40,366.80 407.36,369.65 403.68,371.67" fill="#111"/>
<text x="350.40" y="402.10" font-size="7" text-anchor="start" font-weight="bold" fill="#111" >Pectin</text>
<line x1="409.70" y1="405.50" x2="409.70" y2="478.40" stroke="#111" stroke-width="1.25" />
<line x1="409.70" y1="424.00" x2="474.00" y2="424.00" stroke="#111" stroke-width="1.25" />
<line x1="373.60" y1="442.00" x2="409.70" y2="442.00" stroke="#111" stroke-width="1.25" />
<line x1="353.00" y1="478.40" x2="465.20" y2="478.40" stroke="#111" stroke-width="1.25" />
<line x1="446.00" y1="461.40" x2="446.00" y2="478.40" stroke="#111" stroke-width="1.25" />
<line x1="428.20" y1="478.40" x2="428.20" y2="492.80" stroke="#555" stroke-width="0.9" />
<text transform="translate(409.40,411.70) rotate(-90)" font-size="4.9" text-anchor="middle" font-weight="normal" fill="#222">4</text>
<text transform="translate(409.40,418.00) rotate(-90)" font-size="4.9" text-anchor="middle" font-weight="normal" fill="#222">β</text>
<text transform="translate(409.40,430.20) rotate(-90)" font-size="4.9" text-anchor="middle" font-weight="normal" fill="#222">4</text>
<text transform="translate(409.40,436.00) rotate(-90)" font-size="4.9" text-anchor="middle" font-weight="normal" fill="#222">β</text>
<text transform="translate(409.40,448.20) rotate(-90)" font-size="4.9" text-anchor="middle" font-weight="normal" fill="#222">4</text>
<text transform="translate(409.40,454.50) rotate(-90)" font-size="4.9" text-anchor="middle" font-weight="normal" fill="#222">β</text>
<text transform="translate(409.40,466.70) rotate(-90)" font-size="4.9" text-anchor="middle" font-weight="normal" fill="#222">4</text>
<text transform="translate(409.40,472.40) rotate(-90)" font-size="4.9" text-anchor="middle" font-weight="normal" fill="#222">β</text>
<text transform="translate(445.80,468.20) rotate(-90)" font-size="4.9" text-anchor="middle" font-weight="normal" fill="#222">4</text>
<text transform="translate(445.80,473.60) rotate(-90)" font-size="4.9" text-anchor="middle" font-weight="normal" fill="#222">α</text>
<text x="417.10" y="423.40" font-size="4.9" text-anchor="middle" font-weight="normal" fill="#222" >β</text>
<text x="422.40" y="423.40" font-size="4.9" text-anchor="middle" font-weight="normal" fill="#222" >6</text>
<text x="434.20" y="423.40" font-size="4.9" text-anchor="middle" font-weight="normal" fill="#222" >β</text>
<text x="439.50" y="423.40" font-size="4.9" text-anchor="middle" font-weight="normal" fill="#222" >4</text>
<text x="451.60" y="423.40" font-size="4.9" text-anchor="middle" font-weight="normal" fill="#222" >α</text>
<text x="456.90" y="423.40" font-size="4.9" text-anchor="middle" font-weight="normal" fill="#222" >3</text>
<text x="469.00" y="423.40" font-size="4.9" text-anchor="middle" font-weight="normal" fill="#222" >α</text>
<text x="474.30" y="423.40" font-size="4.9" text-anchor="middle" font-weight="normal" fill="#222" >2</text>
<text x="381.00" y="441.40" font-size="4.9" text-anchor="middle" font-weight="normal" fill="#222" >α</text>
<text x="386.30" y="441.40" font-size="4.9" text-anchor="middle" font-weight="normal" fill="#222" >3</text>
<text x="399.20" y="441.40" font-size="4.9" text-anchor="middle" font-weight="normal" fill="#222" >β</text>
<text x="404.50" y="441.40" font-size="4.9" text-anchor="middle" font-weight="normal" fill="#222" >6</text>
<text x="360.40" y="477.80" font-size="4.9" text-anchor="middle" font-weight="normal" fill="#222" >α</text>
<text x="365.70" y="477.80" font-size="4.9" text-anchor="middle" font-weight="normal" fill="#222" >4</text>
<text x="379.40" y="477.80" font-size="4.9" text-anchor="middle" font-weight="normal" fill="#222" >α</text>
<text x="384.70" y="477.80" font-size="4.9" text-anchor="middle" font-weight="normal" fill="#222" >4</text>
<text x="398.40" y="477.80" font-size="4.9" text-anchor="middle" font-weight="normal" fill="#222" >α</text>
<text x="403.70" y="477.80" font-size="4.9" text-anchor="middle" font-weight="normal" fill="#222" >2</text>
<text x="417.10" y="477.80" font-size="4.9" text-anchor="middle" font-weight="normal" fill="#222" >α</text>
<text x="422.40" y="477.80" font-size="4.9" text-anchor="middle" font-weight="normal" fill="#222" >4</text>
<text x="435.60" y="477.80" font-size="4.9" text-anchor="middle" font-weight="normal" fill="#222" >α</text>
<text x="440.90" y="477.80" font-size="4.9" text-anchor="middle" font-weight="normal" fill="#222" >2</text>
<text x="453.40" y="477.80" font-size="4.9" text-anchor="middle" font-weight="normal" fill="#222" >α</text>
<text x="458.70" y="477.80" font-size="4.9" text-anchor="middle" font-weight="normal" fill="#222" >4</text>
<circle cx="409.70" cy="405.50" r="3.8" fill="#ffd400" stroke="#222" stroke-width="0.6"/>
<circle cx="409.70" cy="424.00" r="3.8" fill="#ffd400" stroke="#222" stroke-width="0.6"/>
<circle cx="409.70" cy="442.00" r="3.8" fill="#ffd400" stroke="#222" stroke-width="0.6"/>
<circle cx="409.70" cy="460.50" r="3.8" fill="#ffd400" stroke="#222" stroke-width="0.6"/>
<circle cx="426.80" cy="424.00" r="3.8" fill="#ffd400" stroke="#222" stroke-width="0.6"/>
<circle cx="444.20" cy="424.00" r="3.8" fill="#ffd400" stroke="#222" stroke-width="0.6"/>
<polygon points="461.60,419.40 463.01,422.46 466.36,422.85 463.88,425.14 464.54,428.45 461.60,426.80 458.66,428.45 459.32,425.14 456.84,422.85 460.19,422.46" fill="#00a651" stroke="#222" stroke-width="0.6" stroke-linejoin="round"/>
<polygon points="473.10,428.10 477.40,421.70 481.70,428.10" fill="#ed1c24" stroke="#222" stroke-width="0.6"/>
<polygon points="369.10,442.00 373.60,437.30 378.10,442.00" fill="#0072bc"/>
<polygon points="369.10,442.00 373.60,437.30 378.10,442.00 373.60,446.70" fill="none" stroke="#222" stroke-width="0.6"/>
<polygon points="369.10,442.00 373.60,446.70 378.10,442.00" fill="#fff" stroke="#222" stroke-width="0.6"/>
<circle cx="391.80" cy="442.00" r="3.8" fill="#ffd400" stroke="#222" stroke-width="0.6"/>
<polygon points="348.50,478.40 353.00,473.70 357.50,478.40" fill="#ffd400"/>
<polygon points="348.50,478.40 353.00,473.70 357.50,478.40 353.00,483.10" fill="none" stroke="#222" stroke-width="0.6"/>
<polygon points="348.50,478.40 353.00,483.10 357.50,478.40" fill="#fff" stroke="#222" stroke-width="0.6"/>
<polygon points="367.50,478.40 372.00,473.70 376.50,478.40" fill="#ffd400"/>
<polygon points="367.50,478.40 372.00,473.70 376.50,478.40 372.00,483.10" fill="none" stroke="#222" stroke-width="0.6"/>
<polygon points="367.50,478.40 372.00,483.10 376.50,478.40" fill="#fff" stroke="#222" stroke-width="0.6"/>
<polygon points="386.50,478.40 391.00,473.70 395.50,478.40" fill="#ffd400"/>
<polygon points="386.50,478.40 391.00,473.70 395.50,478.40 391.00,483.10" fill="none" stroke="#222" stroke-width="0.6"/>
<polygon points="386.50,478.40 391.00,483.10 395.50,478.40" fill="#fff" stroke="#222" stroke-width="0.6"/>
<polygon points="423.70,478.40 428.20,473.70 432.70,478.40" fill="#ffd400"/>
<polygon points="423.70,478.40 428.20,473.70 432.70,478.40 428.20,483.10" fill="none" stroke="#222" stroke-width="0.6"/>
<polygon points="423.70,478.40 428.20,483.10 432.70,478.40" fill="#fff" stroke="#222" stroke-width="0.6"/>
<polygon points="460.70,478.40 465.20,473.70 469.70,478.40" fill="#ffd400"/>
<polygon points="460.70,478.40 465.20,473.70 469.70,478.40 465.20,483.10" fill="none" stroke="#222" stroke-width="0.6"/>
<polygon points="460.70,478.40 465.20,483.10 469.70,478.40" fill="#fff" stroke="#222" stroke-width="0.6"/>
<polygon points="405.40,481.70 409.70,475.10 414.00,481.70" fill="#00a651" stroke="#222" stroke-width="0.6"/>
<polygon points="441.70,481.70 446.00,475.10 450.30,481.70" fill="#00a651" stroke="#222" stroke-width="0.6"/>
<polygon points="446.00,456.80 447.41,459.86 450.76,460.25 448.28,462.54 448.94,465.85 446.00,464.20 443.06,465.85 443.72,462.54 441.24,460.25 444.59,459.86" fill="#00a651" stroke="#222" stroke-width="0.6" stroke-linejoin="round"/>
<text x="383.60" y="426.40" font-size="7" text-anchor="middle" font-weight="normal" fill="#000" >GH2/35</text>
<text x="460.00" y="444.60" font-size="7" text-anchor="middle" font-weight="normal" fill="#000" >GH95</text>
<text x="375.00" y="497.80" font-size="7" text-anchor="middle" font-weight="normal" fill="#000" >GH28</text>
<text x="409.70" y="497.80" font-size="7" text-anchor="middle" font-weight="normal" fill="#000" >GH78</text>
<text x="450.40" y="497.80" font-size="7" text-anchor="middle" font-weight="normal" fill="#000" >CE8</text>
<text x="428.60" y="501.00" font-size="4.8" text-anchor="middle" font-weight="normal" fill="#222" >Me</text>
<line x1="390.00" y1="419.40" x2="399.00" y2="415.24" stroke="#111" stroke-width="0.8" />
<polygon points="403.00,413.40 399.89,417.15 398.12,413.34" fill="#111"/>
<line x1="465.40" y1="437.20" x2="467.66" y2="431.12" stroke="#111" stroke-width="0.8" />
<polygon points="469.20,427.00 469.63,431.86 465.70,430.39" fill="#111"/>
<line x1="377.00" y1="490.00" x2="379.28" y2="484.65" stroke="#111" stroke-width="0.8" />
<polygon points="381.00,480.60 381.21,485.47 377.34,483.83" fill="#111"/>
<line x1="414.40" y1="490.80" x2="417.19" y2="484.61" stroke="#111" stroke-width="0.8" />
<polygon points="419.00,480.60 419.11,485.47 415.28,483.75" fill="#111"/>
<line x1="442.00" y1="493.80" x2="435.19" y2="488.95" stroke="#111" stroke-width="0.8" />
<polygon points="431.60,486.40 436.40,487.24 433.97,490.66" fill="#111"/>
<text x="320.50" y="346.00" font-size="7" text-anchor="middle" font-weight="normal" fill="#000" ># enzymes</text>
<text x="194.80" y="343.00" font-size="7" text-anchor="middle" font-weight="normal" fill="#000" ># SC</text>
<text x="194.80" y="351.00" font-size="6.8" text-anchor="middle" font-weight="normal" fill="#000" >normoxia anoxia</text>
<text x="146.00" y="360.60" font-size="7" text-anchor="start" font-weight="normal" fill="#000" >GH43*</text>
<text x="187.00" y="360.60" font-size="7" text-anchor="end" font-weight="normal" fill="#000" >0</text>
<text x="215.20" y="360.60" font-size="7" text-anchor="end" font-weight="normal" fill="#000" >59</text>
<text x="322.50" y="360.60" font-size="7" text-anchor="middle" font-weight="normal" fill="#000" >3/7</text>
<rect x="228.40" y="355.50" width="79.60" height="2.90" fill="#000"/>
<text x="146.00" y="369.00" font-size="7" text-anchor="start" font-weight="normal" fill="#000" >GH115*</text>
<text x="187.00" y="369.00" font-size="7" text-anchor="end" font-weight="normal" fill="#000" >0</text>
<text x="215.20" y="369.00" font-size="7" text-anchor="end" font-weight="normal" fill="#000" >57</text>
<text x="322.50" y="369.00" font-size="7" text-anchor="middle" font-weight="normal" fill="#000" >1/1</text>
<rect x="228.40" y="363.90" width="77.60" height="2.90" fill="#000"/>
<text x="146.00" y="377.40" font-size="7" text-anchor="start" font-weight="normal" fill="#000" >CE15*</text>
<text x="187.00" y="377.40" font-size="7" text-anchor="end" font-weight="normal" fill="#000" >0</text>
<text x="215.20" y="377.40" font-size="7" text-anchor="end" font-weight="normal" fill="#000" >39</text>
<text x="322.50" y="377.40" font-size="7" text-anchor="middle" font-weight="normal" fill="#000" >1/1</text>
<rect x="228.40" y="372.30" width="53.60" height="2.90" fill="#000"/>
<text x="146.00" y="385.80" font-size="7" text-anchor="start" font-weight="normal" fill="#000" >GH10*</text>
<text x="187.00" y="385.80" font-size="7" text-anchor="end" font-weight="normal" fill="#000" >1</text>
<text x="215.20" y="385.80" font-size="7" text-anchor="end" font-weight="normal" fill="#000" >52</text>
<text x="322.50" y="385.80" font-size="7" text-anchor="middle" font-weight="normal" fill="#000" >2/3</text>
<rect x="228.40" y="380.70" width="47.20" height="2.90" fill="#000"/>
<text x="146.00" y="394.20" font-size="7" text-anchor="start" font-weight="normal" fill="#000" >GH51</text>
<text x="187.00" y="394.20" font-size="7" text-anchor="end" font-weight="normal" fill="#000" >4</text>
<text x="215.20" y="394.20" font-size="7" text-anchor="end" font-weight="normal" fill="#000" >72</text>
<text x="322.50" y="394.20" font-size="7" text-anchor="middle" font-weight="normal" fill="#000" >1/3</text>
<rect x="228.40" y="389.10" width="32.60" height="2.90" fill="#000"/>
<text x="146.00" y="447.60" font-size="7" text-anchor="start" font-weight="normal" fill="#000" >GH27*</text>
<text x="187.00" y="447.60" font-size="7" text-anchor="end" font-weight="normal" fill="#000" >0</text>
<text x="215.20" y="447.60" font-size="7" text-anchor="end" font-weight="normal" fill="#000" >46</text>
<text x="322.40" y="447.60" font-size="7" text-anchor="middle" font-weight="normal" fill="#000" >3/4</text>
<rect x="228.60" y="442.50" width="63.40" height="2.90" fill="#000"/>
<text x="146.00" y="456.00" font-size="7" text-anchor="start" font-weight="normal" fill="#000" >GH5_7*</text>
<text x="187.00" y="456.00" font-size="7" text-anchor="end" font-weight="normal" fill="#000" >0</text>
<text x="215.20" y="456.00" font-size="7" text-anchor="end" font-weight="normal" fill="#000" >11</text>
<text x="322.40" y="456.00" font-size="7" text-anchor="middle" font-weight="normal" fill="#000" >1/2</text>
<rect x="228.60" y="450.90" width="17.40" height="2.90" fill="#000"/>
<text x="146.00" y="464.40" font-size="7" text-anchor="start" font-weight="normal" fill="#000" >GH1</text>
<text x="187.00" y="464.40" font-size="7" text-anchor="end" font-weight="normal" fill="#000" >2</text>
<text x="215.20" y="464.40" font-size="7" text-anchor="end" font-weight="normal" fill="#000" >22</text>
<text x="322.40" y="464.40" font-size="7" text-anchor="middle" font-weight="normal" fill="#000" >1/2</text>
<rect x="228.60" y="459.30" width="16.40" height="2.90" fill="#000"/>
<text x="146.00" y="472.80" font-size="7" text-anchor="start" font-weight="normal" fill="#000" >CE16</text>
<text x="187.00" y="472.80" font-size="7" text-anchor="end" font-weight="normal" fill="#000" >9</text>
<text x="215.20" y="472.80" font-size="7" text-anchor="end" font-weight="normal" fill="#000" >57</text>
<text x="322.40" y="472.80" font-size="7" text-anchor="middle" font-weight="normal" fill="#000" >2/7</text>
<rect x="228.60" y="467.70" width="14.40" height="2.90" fill="#000"/>
<text x="146.00" y="481.20" font-size="7" text-anchor="start" font-weight="normal" fill="#000" >GH3</text>
<text x="187.00" y="481.20" font-size="7" text-anchor="end" font-weight="normal" fill="#000" >99</text>
<text x="215.20" y="481.20" font-size="7" text-anchor="end" font-weight="normal" fill="#000" >381</text>
<text x="322.40" y="481.20" font-size="7" text-anchor="middle" font-weight="normal" fill="#000" >9/11</text>
<rect x="228.60" y="476.10" width="10.40" height="2.90" fill="#000"/>
<line x1="228.60" y1="482.60" x2="308.00" y2="482.60" stroke="#000" stroke-width="1.2" />
<line x1="255.00" y1="482.60" x2="255.00" y2="484.60" stroke="#000" stroke-width="1.0" />
<text x="255.00" y="493.20" font-size="7" text-anchor="middle" font-weight="normal" fill="#000" >10</text>
<line x1="281.40" y1="482.60" x2="281.40" y2="484.60" stroke="#000" stroke-width="1.0" />
<text x="281.40" y="493.20" font-size="7" text-anchor="middle" font-weight="normal" fill="#000" >20</text>
<text x="270.20" y="503.20" font-size="7" text-anchor="middle" font-weight="normal" fill="#000" >fold change</text>
<text x="663.50" y="345.60" font-size="7" text-anchor="middle" font-weight="normal" fill="#000" ># enzymes</text>
<text x="537.30" y="343.00" font-size="7" text-anchor="middle" font-weight="normal" fill="#000" ># SC</text>
<text x="537.30" y="351.00" font-size="6.8" text-anchor="middle" font-weight="normal" fill="#000" >normoxia anoxia</text>
<text x="490.60" y="360.20" font-size="7" text-anchor="start" font-weight="normal" fill="#000" >GH5_5</text>
<text x="531.60" y="360.20" font-size="7" text-anchor="end" font-weight="normal" fill="#000" >18</text>
<text x="559.80" y="360.20" font-size="7" text-anchor="end" font-weight="normal" fill="#000" >208</text>
<text x="667.40" y="359.30" font-size="7" text-anchor="middle" font-weight="normal" fill="#000" >2/3</text>
<rect x="573.00" y="355.10" width="27.60" height="2.90" fill="#000"/>
<text x="490.60" y="368.60" font-size="7" text-anchor="start" font-weight="normal" fill="#000" >GH1</text>
<text x="531.60" y="368.60" font-size="7" text-anchor="end" font-weight="normal" fill="#000" >2</text>
<text x="559.80" y="368.60" font-size="7" text-anchor="end" font-weight="normal" fill="#000" >22</text>
<text x="667.40" y="367.70" font-size="7" text-anchor="middle" font-weight="normal" fill="#000" >1/2</text>
<rect x="573.00" y="363.50" width="16.00" height="2.90" fill="#000"/>
<text x="490.60" y="377.00" font-size="7" text-anchor="start" font-weight="normal" fill="#000" >GH3</text>
<text x="531.60" y="377.00" font-size="7" text-anchor="end" font-weight="normal" fill="#000" >99</text>
<text x="559.80" y="377.00" font-size="7" text-anchor="end" font-weight="normal" fill="#000" >381</text>
<text x="667.40" y="376.10" font-size="7" text-anchor="middle" font-weight="normal" fill="#000" >9/11</text>
<rect x="573.00" y="371.90" width="10.00" height="2.90" fill="#000"/>
<text x="490.60" y="430.60" font-size="7" text-anchor="start" font-weight="normal" fill="#000" >GH35</text>
<text x="531.60" y="430.60" font-size="7" text-anchor="end" font-weight="normal" fill="#000" >15</text>
<text x="559.80" y="430.60" font-size="7" text-anchor="end" font-weight="normal" fill="#000" >127</text>
<text x="667.20" y="430.60" font-size="7" text-anchor="middle" font-weight="normal" fill="#000" >2/2</text>
<rect x="573.00" y="425.50" width="20.00" height="2.90" fill="#000"/>
<text x="490.60" y="439.00" font-size="7" text-anchor="start" font-weight="normal" fill="#000" >GH28</text>
<text x="531.60" y="439.00" font-size="7" text-anchor="end" font-weight="normal" fill="#000" >5</text>
<text x="559.80" y="439.00" font-size="7" text-anchor="end" font-weight="normal" fill="#000" >21</text>
<text x="667.20" y="439.00" font-size="7" text-anchor="middle" font-weight="normal" fill="#000" >3/12</text>
<rect x="573.00" y="433.90" width="9.00" height="2.90" fill="#000"/>
<text x="490.60" y="447.40" font-size="7" text-anchor="start" font-weight="normal" fill="#000" >CE8</text>
<text x="531.60" y="447.40" font-size="7" text-anchor="end" font-weight="normal" fill="#000" >5</text>
<text x="559.80" y="447.40" font-size="7" text-anchor="end" font-weight="normal" fill="#000" >12</text>
<text x="667.20" y="447.40" font-size="7" text-anchor="middle" font-weight="normal" fill="#000" >2/2</text>
<rect x="573.00" y="442.30" width="5.60" height="2.90" fill="#000"/>
<text x="490.60" y="455.80" font-size="7" text-anchor="start" font-weight="normal" fill="#000" >GH2</text>
<text x="531.60" y="455.80" font-size="7" text-anchor="end" font-weight="normal" fill="#000" >89</text>
<text x="559.80" y="455.80" font-size="7" text-anchor="end" font-weight="normal" fill="#000" >169</text>
<text x="667.20" y="455.80" font-size="7" text-anchor="middle" font-weight="normal" fill="#000" >3/4</text>
<rect x="573.00" y="450.70" width="5.00" height="2.90" fill="#000"/>
<text x="490.60" y="464.20" font-size="7" text-anchor="start" font-weight="normal" fill="#000" >GH78</text>
<text x="531.60" y="464.20" font-size="7" text-anchor="end" font-weight="normal" fill="#000" >17</text>
<text x="559.80" y="464.20" font-size="7" text-anchor="end" font-weight="normal" fill="#000" >27</text>
<text x="667.20" y="464.20" font-size="7" text-anchor="middle" font-weight="normal" fill="#000" >1/4</text>
<rect x="573.00" y="459.10" width="4.00" height="2.90" fill="#000"/>
<line x1="573.00" y1="466.50" x2="652.40" y2="466.50" stroke="#000" stroke-width="1.2" />
<line x1="599.40" y1="466.50" x2="599.40" y2="468.50" stroke="#000" stroke-width="1.0" />
<text x="599.40" y="476.80" font-size="7" text-anchor="middle" font-weight="normal" fill="#000" >10</text>
<line x1="625.80" y1="466.50" x2="625.80" y2="468.50" stroke="#000" stroke-width="1.0" />
<text x="625.80" y="476.80" font-size="7" text-anchor="middle" font-weight="normal" fill="#000" >20</text>
<text x="614.30" y="487.70" font-size="7" text-anchor="middle" font-weight="normal" fill="#000" >fold change</text>
<circle cx="212.50" cy="517.20" r="3.7" fill="#0072bc" stroke="#222" stroke-width="0.6"/>
<text x="218.00" y="519.70" font-size="7" text-anchor="start" font-weight="normal" fill="#000" >Glc</text>
<circle cx="248.00" cy="517.20" r="3.7" fill="#00a651" stroke="#222" stroke-width="0.6"/>
<text x="254.00" y="519.70" font-size="7" text-anchor="start" font-weight="normal" fill="#000" >Man</text>
<circle cx="286.60" cy="517.20" r="3.7" fill="#ffd400" stroke="#222" stroke-width="0.6"/>
<text x="291.60" y="519.70" font-size="7" text-anchor="start" font-weight="normal" fill="#000" >Gal</text>
<polygon points="315.40,517.20 320.00,512.60 324.60,517.20" fill="#0072bc"/>
<polygon points="315.40,517.20 320.00,512.60 324.60,517.20 320.00,521.80" fill="none" stroke="#222" stroke-width="0.6"/>
<polygon points="315.40,517.20 320.00,521.80 324.60,517.20" fill="#fff" stroke="#222" stroke-width="0.6"/>
<text x="327.60" y="519.70" font-size="7" text-anchor="start" font-weight="normal" fill="#000" >GlcA</text>
<polygon points="353.00,517.20 357.60,512.60 362.20,517.20" fill="#ffd400"/>
<polygon points="353.00,517.20 357.60,512.60 362.20,517.20 357.60,521.80" fill="none" stroke="#222" stroke-width="0.6"/>
<polygon points="353.00,517.20 357.60,521.80 362.20,517.20" fill="#fff" stroke="#222" stroke-width="0.6"/>
<text x="365.00" y="519.70" font-size="7" text-anchor="start" font-weight="normal" fill="#000" >GalA</text>
<polygon points="392.40,519.90 397.00,512.90 401.60,519.90" fill="#ed1c24" stroke="#222" stroke-width="0.6"/>
<text x="403.60" y="519.70" font-size="7" text-anchor="start" font-weight="normal" fill="#000" >Fuc</text>
<polygon points="425.00,519.90 429.60,512.90 434.20,519.90" fill="#00a651" stroke="#222" stroke-width="0.6"/>
<text x="435.60" y="519.70" font-size="7" text-anchor="start" font-weight="normal" fill="#000" >Rha</text>
<polygon points="465.60,512.00 467.01,515.06 470.36,515.45 467.88,517.74 468.54,521.05 465.60,519.40 462.66,521.05 463.32,517.74 460.84,515.45 464.19,515.06" fill="#00a651" stroke="#222" stroke-width="0.6" stroke-linejoin="round"/>
<text x="471.80" y="519.70" font-size="7" text-anchor="start" font-weight="normal" fill="#000" >Ara</text>
<polygon points="499.60,512.00 501.01,515.06 504.36,515.45 501.88,517.74 502.54,521.05 499.60,519.40 496.66,521.05 497.32,517.74 494.84,515.45 498.19,515.06" fill="#f47920" stroke="#222" stroke-width="0.6" stroke-linejoin="round"/>
<text x="506.20" y="519.70" font-size="7" text-anchor="start" font-weight="normal" fill="#000" >Xyl</text>
</svg></body></html>
